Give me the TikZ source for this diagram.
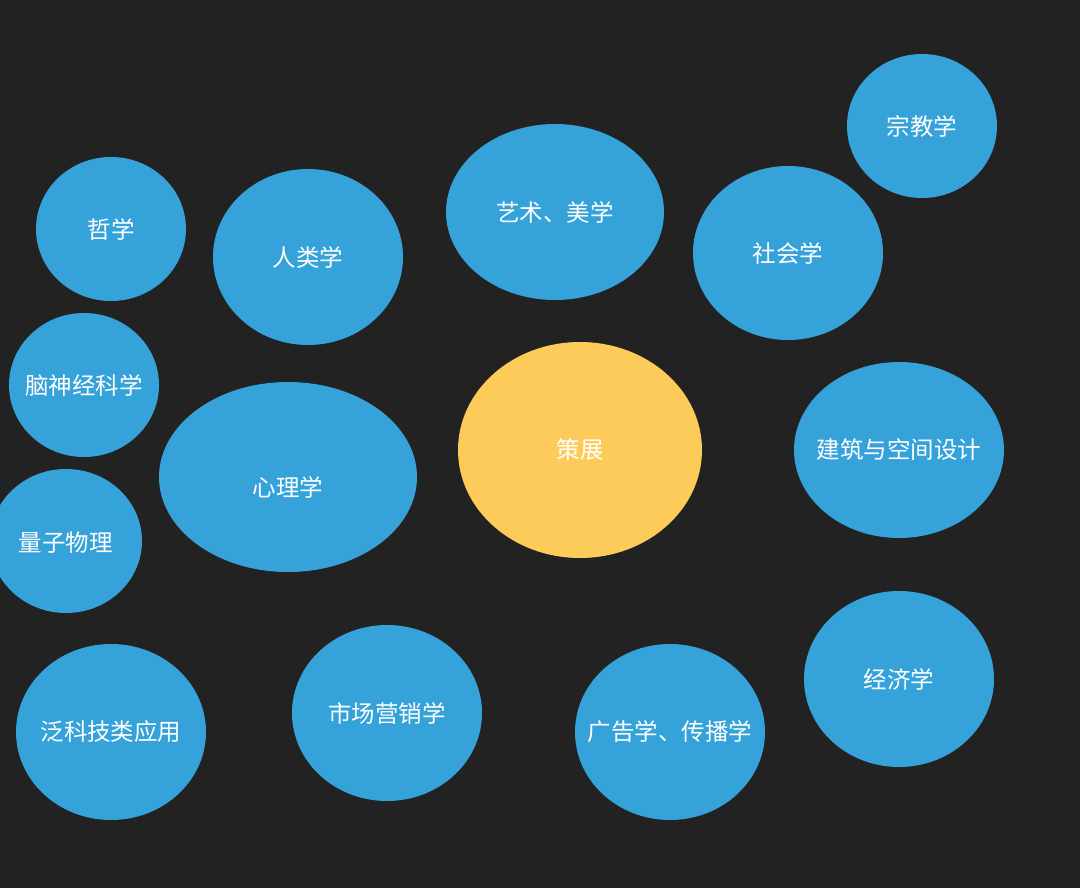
\documentclass[tikz,border=0pt]{standalone}
\usepackage{fontspec}
\newfontfamily\cjk{Noto Sans CJK SC}
\usetikzlibrary{shapes.geometric}
\definecolor{bg}{HTML}{222222}
\definecolor{bblue}{HTML}{35A3DA}
\definecolor{byellow}{HTML}{FDCB5A}
\begin{document}
\begin{tikzpicture}[x=1pt,y=-1pt,
  bub/.style={ellipse,fill=bblue,inner sep=0pt},
  lab/.style={text=white,font=\cjk\fontsize{23.5}{25}\selectfont,inner sep=0pt}]
\useasboundingbox (0,0) rectangle (1080,888);
\clip (0,0) rectangle (1080,888);
\fill[bg] (0,0) rectangle (1080,888);
\node[bub,minimum width=150pt,minimum height=144pt] (zx) at (111,229) {};
\node[lab] at (zx) {哲学};
\node[bub,minimum width=190pt,minimum height=176pt] (rl) at (308,257) {};
\node[lab] at (rl) {人类学};
\node[bub,minimum width=218pt,minimum height=176pt] (ys) at (555,212) {};
\node[lab] at (ys) {艺术、美学};
\node[bub,minimum width=150pt,minimum height=144pt] (zj) at (922,126) {};
\node[lab] at (zj) {宗教学};
\node[bub,minimum width=190pt,minimum height=174pt] (sh) at (788,253) {};
\node[lab] at (sh) {社会学};
\node[bub,minimum width=150pt,minimum height=144pt] (ns) at (84,385) {};
\node[lab] at (84,386) {脑神经科学};
\node[bub,minimum width=258pt,minimum height=190pt] (xl) at (288,477) {};
\node[lab] at (288,487) {心理学};
\node[bub,fill=byellow,minimum width=244pt,minimum height=216pt] (cz) at (580,450) {};
\node[lab] at (cz) {策展};
\node[bub,minimum width=210pt,minimum height=176pt] (jz) at (899,450) {};
\node[lab] at (jz) {建筑与空间设计};
\node[bub,minimum width=152pt,minimum height=144pt] (lz) at (66,541) {};
\node[lab] at (66,543) {量子物理};
\node[bub,minimum width=190pt,minimum height=176pt] (fk) at (111,732) {};
\node[lab] at (fk) {泛科技类应用};
\node[bub,minimum width=190pt,minimum height=176pt] (sc) at (387,713) {};
\node[lab] at (sc) {市场营销学};
\node[bub,minimum width=190pt,minimum height=176pt] (gg) at (670,732) {};
\node[lab] at (gg) {广告学、传播学};
\node[bub,minimum width=190pt,minimum height=176pt] (jj) at (899,679) {};
\node[lab] at (jj) {经济学};
\end{tikzpicture}
\end{document}
